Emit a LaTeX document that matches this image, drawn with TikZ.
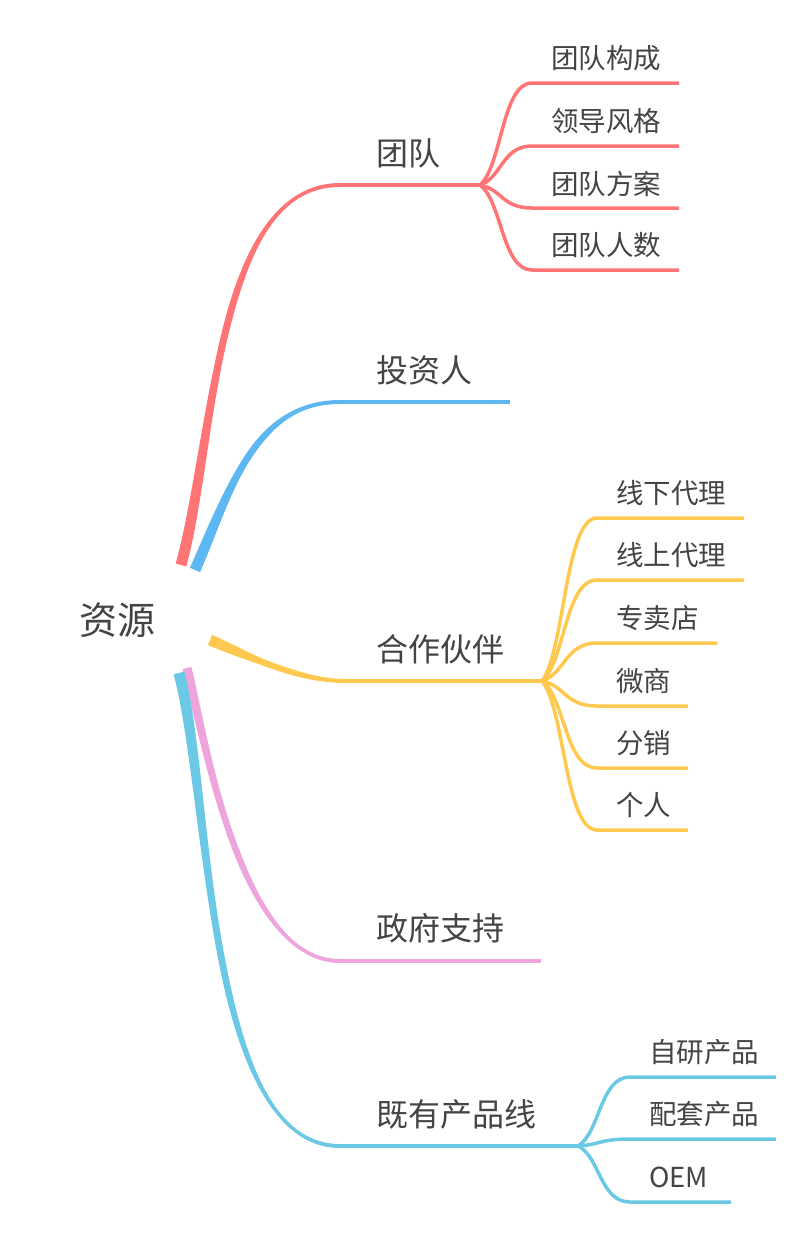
\documentclass[tikz,border=0pt]{standalone}
\usepackage{fontspec}
\setmainfont{Noto Sans CJK SC}
\usetikzlibrary{calc}
\definecolor{cr}{HTML}{FF7575}
\definecolor{cb}{HTML}{5DB7F0}
\definecolor{cy}{HTML}{FFC94F}
\definecolor{cp}{HTML}{EEA5DD}
\definecolor{cc}{HTML}{6CC9E5}
\definecolor{tx}{HTML}{444444}
% tapered main branch, split at t=0.5:
% #1 P0, #2 C1, #3 C2, #4 P3, #5 half start width, #6 half middle width, #7 half end width, #8 colour
\newcommand\taperbranch[8]{%
  \coordinate (tA) at ($(#1)!0.5!(#2)$);
  \coordinate (tB) at ($(#2)!0.5!(#3)$);
  \coordinate (tC) at ($(#3)!0.5!(#4)$);
  \coordinate (tD) at ($(tA)!0.5!(tB)$);
  \coordinate (tE) at ($(tB)!0.5!(tC)$);
  \coordinate (tM) at ($(tD)!0.5!(tE)$);
  \fill[#8] ($(#1)!#5!90:(tA)$) .. controls ($(tA)!#5!-90:(#1)$) and ($(tD)!#6!90:(tM)$) .. ($(tM)!#6!-90:(tD)$)
    .. controls ($(tE)!#6!-90:(tM)$) and ($(tC)!#7!90:(#4)$) .. ($(#4)!#7!-90:(tC)$)
    -- ($(#4)!#7!90:(tC)$) .. controls ($(tC)!#7!-90:(#4)$) and ($(tE)!#6!90:(tM)$) .. ($(tM)!#6!-90:(tE)$)
    .. controls ($(tD)!#6!-90:(tM)$) and ($(tA)!#5!90:(#1)$) .. ($(#1)!#5!-90:(tA)$) -- cycle;}
\tikzset{
  mainline/.style={line width=4pt},
  subline/.style={line width=3.5pt},
  rootlabel/.style={text=tx, inner sep=0pt, font=\fontsize{38}{42}\selectfont},
  toplabel/.style={text=tx, inner sep=0pt, anchor=west, font=\fontsize{32}{36}\selectfont},
  sublabel/.style={text=tx, inner sep=0pt, anchor=west, font=\fontsize{27.5}{30}\selectfont},
}
\begin{document}
\begin{tikzpicture}[x=1pt,y=-1pt]
\useasboundingbox (0,0) rectangle (800,1237);
\fill[white] (0,0) rectangle (800,1237);

\node[rootlabel] (root) at (117,620) {资源};

% ---------- red: 团队 ----------
\coordinate (rP0) at (181,565);
\coordinate (rC1) at (215,440);
\coordinate (rC2) at (215,185);
\coordinate (rP3) at (340,185);
\coordinate (rJ) at (480,185);
\taperbranch{rP0}{rC1}{rC2}{rP3}{5.5pt}{3.5pt}{2pt}{cr}
\draw[mainline, cr] (rP3) -- (rJ);
\node[toplabel] (team) at (376,153.5) {团队};
\foreach \yy/\xe/\t [count=\i] in {83/679/团队构成, 146/679/领导风格, 208/679/团队方案, 270/679/团队人数} {
  \coordinate (rs\i) at (532,\yy);
  \coordinate (re\i) at (\xe,\yy);
  \draw[subline, cr] (rJ) .. controls ($(rJ)+(22,{0.19*(\yy-185)})$) and (502,\yy) .. (rs\i) -- (re\i);
  \node[sublabel] (rt\i) at (551,\yy-24.5) {\t};
}

% ---------- blue: 投资人 ----------
\coordinate (bP0) at (195,570);
\coordinate (bC1) at (230,490);
\coordinate (bC2) at (255,402);
\coordinate (bP3) at (340,402);
\coordinate (bE) at (510,402);
\taperbranch{bP0}{bC1}{bC2}{bP3}{5.5pt}{3.4pt}{2pt}{cb}
\draw[mainline, cb] (bP3) -- (bE);
\node[toplabel] (investor) at (376,370) {投资人};

% ---------- yellow: 合作伙伴 ----------
\coordinate (yP0) at (210,640);
\coordinate (yC1) at (250,657);
\coordinate (yC2) at (300,681);
\coordinate (yP3) at (345,681);
\coordinate (yJ) at (542,681);
\taperbranch{yP0}{yC1}{yC2}{yP3}{5.5pt}{3pt}{2pt}{cy}
\draw[mainline, cy] (yP3) -- (yJ);
\node[toplabel] (partner) at (376,649.5) {合作伙伴};
\foreach \yy/\xe/\t [count=\i] in {518/744/线下代理, 580/744/线上代理, 643/717/专卖店, 706/688/微商, 768/688/分销, 830/688/个人} {
  \coordinate (ys\i) at (597,\yy);
  \coordinate (ye\i) at (\xe,\yy);
  \draw[subline, cy] (yJ) .. controls ($(yJ)+(23,{0.19*(\yy-681)})$) and (565,\yy) .. (ys\i) -- (ye\i);
  \node[sublabel] (yt\i) at (616,\yy-24.5) {\t};
}

% ---------- pink: 政府支持 ----------
\coordinate (pP0) at (187,668);
\coordinate (pC1) at (205,740);
\coordinate (pC2) at (240,961);
\coordinate (pP3) at (340,961);
\coordinate (pE) at (541,961);
\taperbranch{pP0}{pC1}{pC2}{pP3}{4.5pt}{3.2pt}{2pt}{cp}
\draw[mainline, cp] (pP3) -- (pE);
\node[toplabel] (gov) at (376,928.5) {政府支持};

% ---------- cyan: 既有产品线 ----------
\coordinate (cP0) at (179,673);
\coordinate (cC1) at (211,795);
\coordinate (cC2) at (205,1146);
\coordinate (cP3) at (340,1146);
\coordinate (cJ) at (578,1146);
\taperbranch{cP0}{cC1}{cC2}{cP3}{5.5pt}{3.4pt}{2pt}{cc}
\draw[mainline, cc] (cP3) -- (cJ);
\node[toplabel] (products) at (376,1114.5) {既有产品线};
\foreach \yy/\xe/\t [count=\i] in {1077/776/自研产品, 1139/776/配套产品, 1202/731/OEM} {
  \coordinate (cs\i) at (630,\yy);
  \coordinate (ce\i) at (\xe,\yy);
  \draw[subline, cc] (cJ) .. controls ($(cJ)+(22,{0.19*(\yy-1146)})$) and (600,\yy) .. (cs\i) -- (ce\i);
  \node[sublabel] (ct\i) at (649,\yy-24.5) {\t};
}
\end{tikzpicture}
\end{document}
